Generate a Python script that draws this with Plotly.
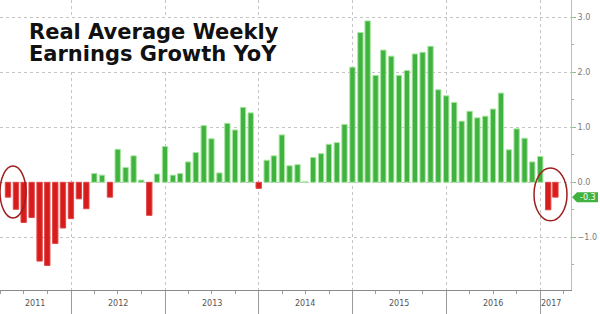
import pandas as pd
import plotly.graph_objects as go

# Monthly observations (plotted at month end), Apr 2011 .. Feb 2017
months = pd.date_range("2011-04-30", periods=71, freq="ME")
values = [-0.27, -0.49, -0.73, -0.64, -1.43, -1.51, -1.11, -0.83, -0.66, -0.30, -0.48,
          0.16, 0.13, -0.27, 0.60, 0.27, 0.48, 0.04, -0.60, 0.15, 0.65, 0.13, 0.16, 0.37,
          0.54, 1.03, 0.79, 0.17, 1.07, 0.95, 1.36, 1.26, -0.11, 0.40, 0.48, 0.86, 0.30, 0.32,
          0.01, 0.45, 0.52, 0.69, 0.72, 1.05, 2.09, 2.72, 2.93, 1.94, 2.40, 2.29, 1.94, 2.03,
          2.33, 2.36, 2.47, 1.68, 1.57, 1.45, 1.11, 1.29, 1.17, 1.20, 1.33, 1.62, 0.59, 0.97,
          0.80, 0.37, 0.47, -0.50, -0.27]
year_labels = ["2011", "2012", "2013", "2014", "2015", "2016", "2017"]
year_label_pos = ["2011-08-14", "2012-07-01", "2013-07-01", "2014-07-01",
                  "2015-07-01", "2016-07-01", "2017-02-10"]
title_lines = ["Real Average Weekly", "Earnings Growth YoY"]
last_label = "-0.3"

GREEN = "#3fb23f"
GREEN_EDGE = "#a8e6a0"
RED = "#d81b1b"
RED_EDGE = "#e04848"

colors = [GREEN if v >= 0 else RED for v in values]
edges = [GREEN_EDGE if v >= 0 else RED_EDGE for v in values]

fig = go.Figure()
fig.add_trace(go.Bar(
    x=months, y=values,
    width=1.8e9,
    marker=dict(color=colors, line=dict(color=edges, width=1)),
    hoverinfo="skip",
))

GRID = "#c4c4c4"
fig.update_layout(
    width=600, height=314,
    margin=dict(l=0, r=29, t=0, b=24),
    plot_bgcolor="white", paper_bgcolor="white",
    showlegend=False,
    font=dict(family="DejaVu Sans", size=8, color="#777"),
    xaxis=dict(
        type="date",
        range=["2011-03-29 22:00", "2017-04-29 17:00"],
        tick0="2011-01-01", dtick="M12",
        ticks="outside", ticklen=24, tickcolor="#9a9a9a", tickwidth=1,
        showticklabels=False,
        showgrid=True, gridcolor=GRID, griddash="dot", gridwidth=1,
        showline=True, linecolor="#8a8a8a", linewidth=1,
        minor=dict(tick0="2011-01-01", dtick="M3", ticks="outside", ticklen=3,
                   tickcolor="#9a9a9a", showgrid=False),
        fixedrange=True,
    ),
    yaxis=dict(
        side="right",
        range=[-1.955, 3.309],
        tick0=0, dtick=1, tickformat=".1f",
        ticks="outside", ticklen=4, tickcolor="#8fbf8f",
        tickfont=dict(size=8, color="#7a7a7a"),
        showline=True, linecolor="#a9c9a9", linewidth=1,
        showgrid=True, gridcolor=GRID, griddash="dot", gridwidth=1,
        zeroline=False,
        minor=dict(dtick=0.5, ticks="outside", ticklen=2, tickcolor="#8fbf8f", showgrid=False),
        fixedrange=True,
    ),
)

shapes = []
# white box behind title
shapes.append(dict(type="rect", xref="paper", yref="paper",
                   x0=20/571, x1=285/571, y0=1-69/290, y1=1-18/290,
                   fillcolor="white", line=dict(width=0), layer="above"))
# red ellipses
shapes.append(dict(type="circle", xref="paper", yref="y",
                   x0=0.0, x1=26/571, y0=-0.648, y1=0.296,
                   line=dict(color="#9e1f1f", width=1.5), layer="above"))
shapes.append(dict(type="circle", xref="paper", yref="y",
                   x0=534/571, x1=567/571, y0=-0.70, y1=0.26,
                   line=dict(color="#9e1f1f", width=1.5), layer="above"))
# last value tag
lv = values[-1]
h = 0.09
shapes.append(dict(type="path", xref="paper", yref="y",
                   path=(f"M {572/571},{lv} L {577/571},{lv+h} L {598/571},{lv+h} "
                         f"L {598/571},{lv-h} L {577/571},{lv-h} Z"),
                   fillcolor=GREEN, line=dict(width=0), layer="above"))
fig.update_layout(shapes=shapes)

annotations = []
for lbl, pos in zip(year_labels, year_label_pos):
    annotations.append(dict(x=pos, y=-0.045, xref="x", yref="paper", text=lbl,
                            showarrow=False, xanchor="center", yanchor="middle",
                            font=dict(size=8, color="#555")))
annotations.append(dict(x=587.5/571, y=lv, xref="paper", yref="y", text=last_label,
                        showarrow=False, xanchor="center", yanchor="middle",
                        font=dict(size=8, color="white")))
for txt, ypx in zip(title_lines, [32.5, 54.5]):
    annotations.append(dict(x=27/571, y=1-ypx/290, xref="paper", yref="paper",
                            text=f"<b>{txt}</b>", showarrow=False,
                            xanchor="left", yanchor="middle",
                            font=dict(family="DejaVu Sans", size=21, color="#111")))
fig.update_layout(annotations=annotations)

fig.write_html("out.html")
